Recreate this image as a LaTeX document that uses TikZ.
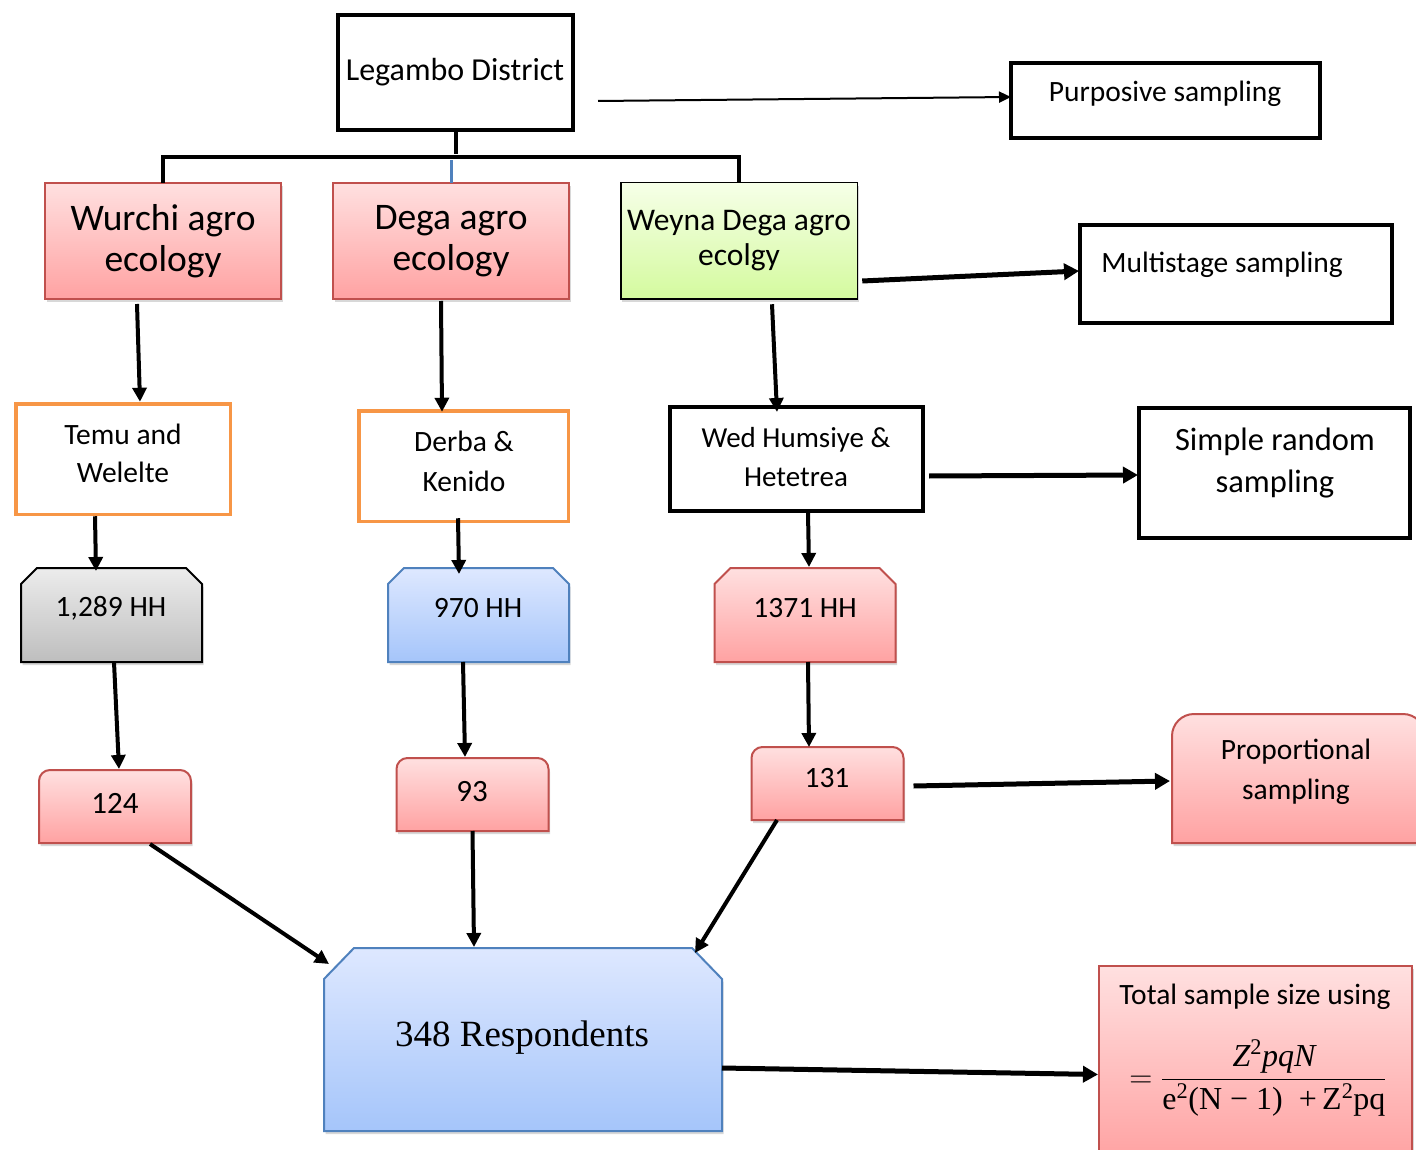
\RequirePackage{fix-cm}
\documentclass[tikz,border=0pt]{standalone}
\usepackage{fontspec}
\setmainfont{Carlito}
\newfontfamily\timesfont{Liberation Serif}
\usetikzlibrary{arrows.meta,shadows,calc}
\definecolor{pinkT}{RGB}{255,224,224}
\definecolor{pinkB}{RGB}{255,162,162}
\definecolor{pinkE}{RGB}{192,80,77}
\definecolor{blueT}{RGB}{222,232,255}
\definecolor{blueB}{RGB}{165,197,250}
\definecolor{blueE}{RGB}{79,129,189}
\definecolor{grayT}{RGB}{236,236,236}
\definecolor{grayB}{RGB}{190,190,190}
\definecolor{greenT}{RGB}{246,255,232}
\definecolor{greenB}{RGB}{212,250,158}
\definecolor{orangeE}{RGB}{247,150,70}
\newcommand\fs[2]{\fontsize{#1}{#2}\selectfont}
\newcommand\snipbox[4]{\path[#4] (#1.south west) -- ($(#1.north west)+(0,#3)$) -- ($(#1.north west)+(#2,0)$) -- ($(#1.north east)+(-#2,0)$) -- ($(#1.north east)+(0,#3)$) -- (#1.south east) -- cycle;}
\newcommand\roundtop[3]{\path[#3] (#1.south west) -- ($(#1.north west)+(0,#2)$) arc[start angle=180,end angle=270,radius=#2] -- ($(#1.north east)+(-#2,0)$) arc[start angle=270,end angle=360,radius=#2] -- (#1.south east) -- cycle;}
\tikzset{
  ph/.style={inner sep=0pt, outer sep=0pt},
  blkbox/.style={draw=black, line width=4pt, fill=white, inner sep=0pt, outer sep=0pt},
  orgbox/.style={draw=orangeE, line width=3.5pt, fill=white, inner sep=0pt, outer sep=0pt},
  sh/.style={drop shadow={opacity=0.3, shadow xshift=1.5pt, shadow yshift=-3pt}},
  pinkfill/.style={draw=pinkE, line width=2pt, top color=pinkT, bottom color=pinkB, sh},
  bluefill/.style={draw=blueE, line width=2pt, top color=blueT, bottom color=blueB, sh},
  grayfill/.style={draw=black, line width=2pt, top color=grayT, bottom color=grayB, sh},
  greenfill/.style={draw=black, line width=1.5pt, top color=greenT, bottom color=greenB, sh},
  pinkbox/.style={pinkfill, inner sep=0pt, outer sep=0pt},
  greenbox/.style={greenfill, inner sep=0pt, outer sep=0pt},
  txt/.style={inner sep=0pt, align=center, text=black},
  arr/.style={line width=4pt, -{Triangle[length=14pt,width=14pt]}},
  tarr/.style={line width=5pt, -{Triangle[length=15pt,width=16pt]}},
  thinarr/.style={line width=2pt, -{Triangle[length=12pt,width=11pt]}},
  tree/.style={line width=4pt},
}
\begin{document}
\begin{tikzpicture}[x=1pt,y=-1pt]
\useasboundingbox[fill=white] (0,0) rectangle (1416,1150);

% top level
\node[blkbox, minimum width=235pt, minimum height=115pt] (leg) at (455.5,72.5) {};
\node[txt, font=\fs{32}{38}] (legt) at (455,72) {Legambo District};
\node[blkbox, minimum width=309pt, minimum height=75pt] (purp) at (1165.5,100.5) {};
\node[txt, font=\fs{29.5}{35}] (purpt) at (1165,94) {Purposive sampling};

% agro ecology boxes
\node[pinkbox, minimum width=236pt, minimum height=116pt] (wur) at (163,241) {};
\node[txt, font=\fs{37.5}{41}] (wurt) at (163,241) {Wurchi agro\\ecology};
\node[pinkbox, minimum width=236pt, minimum height=116pt] (dega) at (451,241) {};
\node[txt, font=\fs{37.5}{41}] (degat) at (451,241) {Dega agro\\ecology};
\node[greenbox, minimum width=236.5pt, minimum height=116.5pt] (wey) at (739,241) {};
\node[txt, font=\fs{31.5}{35}] (weyt) at (739,241) {Weyna Dega agro\\ecolgy};

\node[blkbox, minimum width=312pt, minimum height=98pt] (multi) at (1236,274) {};
\node[txt, font=\fs{29.5}{35}] (multit) at (1222,265) {Multistage sampling};

% tree connector
\draw[tree] (leg.south) -- ++(0,24);
\draw[tree] (wur.north) -- ++(0,-26) -| (wey.north);
\draw[line width=3pt, blueE] (dega.north) -- ++(0,-23);

% kebele boxes
\node[orgbox, minimum width=214.5pt, minimum height=110.5pt] (temu) at (123,459) {};
\node[txt, font=\fs{29.5}{38}] (temut) at (123,453) {Temu and\\Welelte};
\node[orgbox, minimum width=209.5pt, minimum height=110.5pt] (derba) at (463.5,466) {};
\node[txt, font=\fs{29.5}{40}] (derbat) at (464,461) {Derba \&\\Kenido};
\node[blkbox, minimum width=253pt, minimum height=104pt] (wed) at (796.5,459) {};
\node[txt, font=\fs{29}{39}] (wedt) at (796,457) {Wed Humsiye \&\\Hetetrea};
\node[blkbox, minimum width=271pt, minimum height=130pt] (simp) at (1274.5,473) {};
\node[txt, font=\fs{32.5}{42}] (simpt) at (1275,463) {Simple random\\sampling};

% household boxes
\node[ph, minimum width=181pt, minimum height=94pt] (hh1) at (111.5,615) {};
\snipbox{hh1}{16}{16}{grayfill}
\node[txt, font=\fs{29.5}{32}] (hh1t) at (111,608) {1,289 HH};
\node[ph, minimum width=181pt, minimum height=94pt] (hh2) at (478.5,615) {};
\snipbox{hh2}{16}{16}{bluefill}
\node[txt, font=\fs{29.5}{32}] (hh2t) at (478,608) {970 HH};
\node[ph, minimum width=181pt, minimum height=94pt] (hh3) at (805,615) {};
\snipbox{hh3}{16}{16}{pinkfill}
\node[txt, font=\fs{29.5}{32}] (hh3t) at (805,608) {1371 HH};

% sample boxes
\node[ph, minimum width=152pt, minimum height=73pt] (n124) at (115,806.5) {};
\roundtop{n124}{11}{pinkfill}
\node[txt, font=\fs{31}{34}] (n124t) at (115,803) {124};
\node[ph, minimum width=152pt, minimum height=73pt] (n93) at (472.5,794.5) {};
\roundtop{n93}{11}{pinkfill}
\node[txt, font=\fs{31}{34}] (n93t) at (472,792) {93};
\node[ph, minimum width=152pt, minimum height=73pt] (n131) at (827.5,783.5) {};
\roundtop{n131}{11}{pinkfill}
\node[txt, font=\fs{29.5}{34}] (n131t) at (827,778) {131};

\node[ph, minimum width=253pt, minimum height=129pt] (prop) at (1298.5,778.5) {};
\roundtop{prop}{22}{pinkfill}
\node[txt, font=\fs{29.5}{40}] (propt) at (1296,772) {Proportional\\sampling};

% respondents
\node[ph, minimum width=398pt, minimum height=183pt] (resp) at (523,1039.5) {};
\snipbox{resp}{30}{31}{bluefill}
\node[txt, font=\timesfont\fs{37}{44}] (respt) at (522,1038) {348 Respondents};

% formula box
\node[pinkbox, minimum width=313pt, minimum height=195pt] (form) at (1255.5,1063.5) {};
\node[txt, font=\fs{29.5}{34}] (formt) at (1255,997) {Total sample size using};
\node[txt, font=\fs{32}{38}] (eq) at (1258,1078) {$\displaystyle =\frac{\hbox{\timesfont\itshape Z\textsuperscript{\upshape 2}pqN}}{\hbox{\timesfont e\textsuperscript{2}(N − 1)\ \ +\,Z\textsuperscript{2}pq}}$};

% connectors
\draw[thinarr] ($(leg.east)+(25,28.5)$) -- ($(purp.west)+(0,-3.5)$);
\draw[tarr] ($(wey.east)+(5,40)$) -- ($(multi.west)+(-1,-3)$);
\draw[tarr] ($(wed.east)+(6,17)$) -- ($(simp.west)+(-1,2)$);
\draw[tarr] ($(n131.east)+(10,2.5)$) -- ($(prop.west)+(-2,2.5)$);
\draw[tarr] ($(resp.east)+(0,28.5)$) -- ($(form.west)+(-1,11)$);

\draw[arr] ($(wur.south)+(-26,5)$) -- ($(temu.north)+(17,-2)$);
\draw[arr] ($(dega.south)+(-10,2)$) -- ($(derba.north)+(-21.5,1)$);
\draw[arr] ($(wey.south)+(33,5)$) -- ($(wed.north)+(-19.5,5)$);

\draw[arr] ($(temu.south)+(-28,2)$) -- ($(hh1.north)+(-15.5,3)$);
\draw[arr] ($(derba.south)+(-5.5,-3)$) -- ($(hh2.north)+(-19.5,6)$);
\draw[arr] ($(wed.south)+(11.5,2)$) -- ($(hh3.north)+(4,-1)$);

\draw[arr] ($(hh1.south)+(2.5,0)$) -- ($(n124.north)+(4,-1)$);
\draw[arr] ($(hh2.south)+(-15.5,0)$) -- ($(n93.north)+(-7.5,-1)$);
\draw[arr] ($(hh3.south)+(3,0)$) -- ($(n131.north)+(-18.5,0)$);

\draw[arr] ($(n124.south)+(35,1)$) -- ($(resp.north west)+(5,16)$);
\draw[arr] (n93.south) -- ($(resp.north)+(-49,-1)$);
\draw[arr] ($(n131.south)+(-50.5,0)$) -- ($(resp.north east)+(-27,5)$);
\end{tikzpicture}
\end{document}
